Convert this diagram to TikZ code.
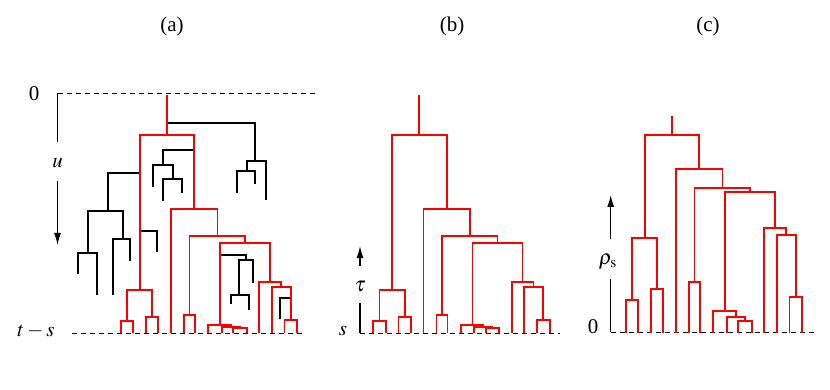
\documentclass[tikz,border=0pt]{standalone}
\usepackage{mathptmx}
\usepackage{fontspec}
\setmainfont{Liberation Serif}
\usetikzlibrary{arrows.meta}

% joins of the sampled tree, heights of panels (a) and (b)
\newcommand\treeab{%
  \coordinate (top) at (166.8,95);  \coordinate (n14) at (166.8,135);
  \coordinate (n3) at (139.6,290);  \coordinate (n1) at (127,320.7);  \coordinate (n2) at (152.2,317.3);
  \coordinate (n13) at (194.3,209.3); \coordinate (n12) at (217.5,236); \coordinate (n4) at (189.5,315);
  \coordinate (n11) at (245,243.3); \coordinate (n7) at (220,325);  \coordinate (n6) at (231,326.7);
  \coordinate (n5) at (240,328.3);  \coordinate (n10) at (270,281.7); \coordinate (n9) at (281,287.3);
  \coordinate (n8) at (290.7,320);
  \leaves}
% same tree, heights of panel (c)
\newcommand\treec{%
  \coordinate (top) at (166.8,116); \coordinate (n14) at (166.8,135);
  \coordinate (n3) at (139.6,237.7); \coordinate (n1) at (127,300);  \coordinate (n2) at (152.2,289);
  \coordinate (n13) at (194.3,169.3); \coordinate (n12) at (217.5,188.3); \coordinate (n4) at (189.5,281.7);
  \coordinate (n11) at (245,191.7); \coordinate (n7) at (220,310.7); \coordinate (n6) at (231,316.7);
  \coordinate (n5) at (240,321);    \coordinate (n10) at (270,227.7); \coordinate (n9) at (281,235);
  \coordinate (n8) at (290.7,296.7);
  \leaves}
\newcommand\leaves{%
  \coordinate (l1) at (120.7,333); \coordinate (l2) at (133.3,333); \coordinate (l3) at (146,333);
  \coordinate (l4) at (158.3,333); \coordinate (l5) at (171,333);   \coordinate (l6) at (184,333);
  \coordinate (l7) at (195,333);   \coordinate (l8) at (208.3,333); \coordinate (l9) at (221.7,333);
  \coordinate (l10) at (233.3,333); \coordinate (l11) at (246.7,333); \coordinate (l12) at (259.3,333);
  \coordinate (l13) at (271.7,333); \coordinate (l14) at (284.5,333); \coordinate (l15) at (297.3,333);}
\newcommand\redtree{%
  \draw[gene] (top) -- (n14) (n14) -| (n3) (n14) -| (n13)
    (n3) -| (n1) (n3) -| (n2) (n1) -| (l1) (n1) -| (l2) (n2) -| (l3) (n2) -| (l4)
    (n13) -| (l5) (n13) -| (n12) (n12) -| (n4) (n12) -| (n11)
    (n4) -| (l6) (n4) -| (l7) (n11) -| (n7) (n11) -| (n10)
    (n7) -| (l8) (n7) -| (n6) (n6) -| (l9) (n6) -| (n5) (n5) -| (l10) (n5) -| (l11)
    (n10) -| (l12) (n10) -| (n9) (n9) -| (l13) (n9) -| (n8) (n8) -| (l14) (n8) -| (l15);}

\begin{document}
\begin{tikzpicture}[x=1pt,y=-1pt,
  gene/.style={red,line width=1.8pt},
  lost/.style={black,line width=1.7pt},
  level/.style={dashed,dash pattern=on 5pt off 4pt,line width=1pt},
  axis/.style={line width=1.3pt},
  axisarrow/.style={line width=1.3pt,-{Latex[length=12pt,width=7pt]}},
  lbl/.style={font=\fontsize{21}{24}\selectfont,inner sep=1pt}
]
\useasboundingbox (0,0) rectangle (830,390);

% panel labels
\node[lbl] (pa) at (172,26) {(a)};
\node[lbl] (pb) at (452,26) {(b)};
\node[lbl] (pc) at (708,26) {(c)};

% (a) full genealogy
\coordinate (a0l) at (57.5,93.5); \coordinate (a0r) at (315,93.5);
\coordinate (asl) at (72,333);    \coordinate (asr) at (305,333);
\draw[level] (a0l) -- (a0r);
\draw[level] (asl) -- (asr);
\node[lbl] (zero) at (34,94) {0};
\node[lbl] (ts) at (36,331) {$t-s$};
\coordinate (uA) at (57.5,142); \coordinate (uB) at (57.5,181); \coordinate (uC) at (57.5,245);
\node[lbl] (u) at (57.5,163) {$u$};
\draw[axis] (a0l) -- (uA);
\draw[axisarrow] (uB) -- (uC);

% lineages that die out before t-s
\coordinate (s1) at (139.6,172.7); \coordinate (k1) at (108.3,211); \coordinate (k2) at (88.3,252.7);
\coordinate (k3) at (123.3,239.3); \coordinate (e1) at (78.3,274);  \coordinate (e2) at (96.7,295);
\coordinate (e3) at (112.7,295);   \coordinate (e4) at (130,260.7);
\coordinate (s2) at (139.6,230.7); \coordinate (e5) at (156.7,252.3);
\coordinate (s3) at (194.3,150);   \coordinate (k4) at (162.7,165); \coordinate (e6) at (153.3,186.7);
\coordinate (k5) at (172.7,179.3); \coordinate (e7) at (162.7,200.7); \coordinate (e8) at (181.7,193.3);
\coordinate (s4) at (166.8,122.7); \coordinate (k6) at (255,160.7); \coordinate (k7) at (246.7,170.7);
\coordinate (e9) at (236.7,192.7); \coordinate (e10) at (255,184); \coordinate (e11) at (266,200);
\coordinate (s5) at (220,255);     \coordinate (k8) at (246.3,260); \coordinate (k9) at (239.3,295);
\coordinate (e12) at (230.7,304);  \coordinate (e13) at (249.3,310); \coordinate (e14) at (253.3,283.3);
\coordinate (s6) at (290.7,298.3); \coordinate (e15) at (280,319.3);
\draw[lost] (s1) -| (k1) (k1) -| (k2) (k1) -| (k3) (k2) -| (e1) (k2) -| (e2) (k3) -| (e3) (k3) -| (e4)
  (s2) -| (e5) (s3) -| (k4) (k4) -| (e6) (k4) -| (k5) (k5) -| (e7) (k5) -| (e8)
  (s4) -| (k6) (k6) -| (k7) (k6) -| (e11) (k7) -| (e9) (k7) -| (e10)
  (s5) -| (k8) (k8) -| (k9) (k8) -| (e14) (k9) -| (e12) (k9) -| (e13)
  (s6) -| (e15);
\begin{scope}[name prefix=a-]
  \treeab
  \redtree
\end{scope}

% (b) reconstructed tree
\coordinate (bsl) at (360,333); \coordinate (bsr) at (560,333);
\draw[level] (bsl) -- (bsr);
\node[lbl] (s) at (343,331) {$s$};
\coordinate (tA) at (360,303); \coordinate (tB) at (360,266); \coordinate (tC) at (360,246);
\node[lbl] (tau) at (360,286) {$\tau$};
\draw[axis] (bsl) -- (tA);
\draw[axisarrow] (tB) -- (tC);
\begin{scope}[xshift=252.5pt,name prefix=b-]
  \treeab
  \redtree
\end{scope}

% (c) rescaled tree
\coordinate (csl) at (610.7,332) ; \coordinate (csr) at (815,332);
\draw[level] (csl) -- (csr);
\node[lbl] (czero) at (593,327) {0};
\coordinate (rA) at (610.7,279); \coordinate (rB) at (610.7,239); \coordinate (rC) at (610.7,195);
\node[lbl] (rho) at (608,262) {$\rho_{\mathrm{s}}$};
\draw[axis] (csl) -- (rA);
\draw[axisarrow] (rB) -- (rC);
\begin{scope}[xshift=505pt,name prefix=c-]
  \treec
  \redtree
\end{scope}
\end{tikzpicture}
\end{document}
